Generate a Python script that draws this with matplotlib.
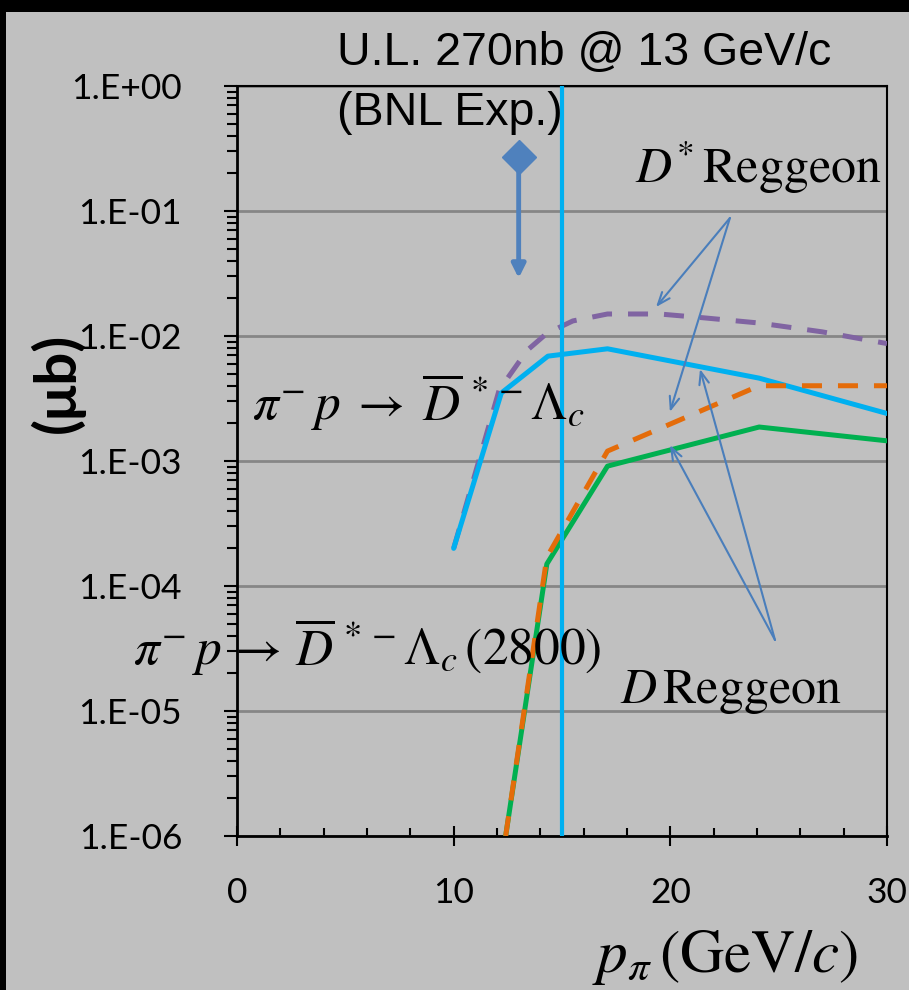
import numpy as np
import matplotlib
matplotlib.use('Agg')
import matplotlib.pyplot as plt
from matplotlib.patches import Rectangle
from matplotlib.ticker import FixedLocator, LogLocator, NullFormatter, MultipleLocator

plt.rcParams['mathtext.fontset'] = 'stix'

# D*^- Lambda_c : D* Reggeon (solid cyan) and smoothed D* curve (purple dashed)
p_dstar = [10, 12.2, 14.35, 17.1, 24.1, 30]
sig_dstar = [2.0e-4, 3.5e-3, 6.9e-3, 7.9e-3, 4.6e-3, 2.4e-3]
p_purple = [10, 12.1, 13.4, 14.3, 15.5, 17.1, 19.5, 21.5, 24.1, 27, 30]
sig_purple = [2.0e-4, 3.7e-3, 7.7e-3, 1.05e-2, 1.32e-2, 1.5e-2, 1.5e-2, 1.4e-2, 1.27e-2, 1.08e-2, 8.7e-3]

# D*^- Lambda_c(2800) : D Reggeon (dashed orange) and solid green
p_orange = [12.4, 14.3, 17.1, 24.1, 30]
sig_orange = [1.0e-6, 1.7e-4, 1.2e-3, 4.0e-3, 4.0e-3]
p_green = [12.4, 14.3, 17.1, 24.1, 30]
sig_green = [1.0e-6, 1.5e-4, 9.1e-4, 1.87e-3, 1.45e-3]

# BNL upper limit (270 nb at 13 GeV/c)
p_ul = 13
sig_ul = 0.27
sig_ul_arrow = 0.029
p_vline = 15

ytick_vals = [1e0, 1e-1, 1e-2, 1e-3, 1e-4, 1e-5, 1e-6]
ytick_labels = ['1.E+00', '1.E-01', '1.E-02', '1.E-03', '1.E-04', '1.E-05', '1.E-06']
xtick_vals = [0, 10, 20, 30]

W, H = 909, 990
fig = plt.figure(figsize=(W / 100, H / 100), dpi=100)
fig.patch.set_facecolor('black')
fig.patches.append(Rectangle((6 / W, 0), 1, 1 - 12 / H, transform=fig.transFigure,
                             facecolor='#c0c0c0', edgecolor='none', zorder=-10))

def fx(px):
    return px / W

def fy(py):
    return 1 - py / H

ax = fig.add_axes([fx(237), fy(836), fx(887) - fx(237), fy(86) - fy(836)])
ax.set_facecolor('#c0c0c0')
ax.set_yscale('log')
ax.set_xlim(0, 30)
ax.set_ylim(1e-6, 1)

cyan = '#00b0f0'
purple = '#8064a2'
orange = '#e46c0a'
green = '#00b050'
blue = '#4f81bd'
lw = 3.6
dash = (0, (4, 3.2))

ax.plot(p_purple, sig_purple, color=purple, lw=lw, ls=dash, zorder=3)
ax.plot(p_dstar, sig_dstar, color=cyan, lw=lw, solid_capstyle='round', zorder=4)
ax.plot(p_green, sig_green, color=green, lw=lw, zorder=3)
ax.plot(p_orange, sig_orange, color=orange, lw=lw, ls=dash, zorder=4)
ax.axvline(p_vline, color=cyan, lw=3, zorder=5)

# upper limit marker with arrow
ax.annotate('', xy=(p_ul, sig_ul_arrow), xytext=(p_ul, sig_ul),
            arrowprops=dict(arrowstyle='-|>,head_length=0.8,head_width=0.4',
                            color=blue, lw=3.5, shrinkA=0, shrinkB=0), zorder=5)
ax.plot([p_ul], [sig_ul], marker='D', ms=17, color=blue, mec=blue, zorder=6)

# annotation arrows
arrow_kw = dict(arrowstyle='->,head_length=0.9,head_width=0.35', color='#4a7ebb',
                lw=1.5, shrinkA=0, shrinkB=0)
for tip in [(19.34, 1.706e-2), (19.98, 2.47e-3)]:
    ax.annotate('', xy=tip, xytext=(22.75, 8.79e-2), arrowprops=arrow_kw, zorder=6)
for tip in [(21.37, 5.44e-3), (19.98, 1.34e-3)]:
    ax.annotate('', xy=tip, xytext=(24.83, 3.7e-5), arrowprops=arrow_kw, zorder=6)

# grid, spines, ticks
ax.yaxis.set_major_locator(FixedLocator(ytick_vals))
ax.set_yticklabels(ytick_labels)
ax.yaxis.set_minor_locator(LogLocator(base=10, subs=np.arange(2, 10), numticks=20))
ax.yaxis.set_minor_formatter(NullFormatter())
ax.xaxis.set_major_locator(FixedLocator(xtick_vals))
ax.xaxis.set_minor_locator(MultipleLocator(2))
ax.grid(axis='y', which='major', color='#868686', lw=2)
ax.set_axisbelow(True)
for s in ['left', 'bottom']:
    ax.spines[s].set_linewidth(2)
for s in ['top', 'right']:
    ax.spines[s].set_linewidth(1.5)

ax.tick_params(axis='y', which='major', direction='out', length=9.5, width=1.5,
               pad=30, labelsize=25.5, labelfontfamily='Lato')
ax.tick_params(axis='y', which='minor', direction='out', length=7, width=1.5)
ax.tick_params(axis='x', which='major', direction='inout', length=15, width=1.5,
               pad=22, labelsize=25.5, labelfontfamily='Lato')
ax.tick_params(axis='x', which='minor', direction='in', length=6, width=1.5)

# texts
fig.text(fx(337), fy(65), 'U.L. 270nb @ 13 GeV/c', fontsize=33.5,
         family='Liberation Sans', va='baseline', ha='left')
fig.text(fx(337), fy(125), '(BNL Exp.)', fontsize=33.5,
         family='Liberation Sans', va='baseline', ha='left')
fig.text(fx(635), fy(183), r'$D^{*}\,\mathrm{Reggeon}$', fontsize=36,
         va='baseline', ha='left')
fig.text(fx(620), fy(703), r'$D\,\mathrm{Reggeon}$', fontsize=36,
         va='baseline', ha='left')
fig.text(fx(252), fy(420),
         r'$\pi^{-}\,p\;\rightarrow\;\overline{D}^{\,*-}\Lambda_c$',
         fontsize=37, va='baseline', ha='left')
fig.text(fx(133), fy(665),
         r'$\pi^{-}\,p\,\rightarrow\,\overline{D}^{\,*-}\Lambda_c\,(2800)$',
         fontsize=37, va='baseline', ha='left')
fig.text(fx(57), fy(383), '(\u03bcb)', fontsize=42, family='Lato',
         fontweight='bold', rotation=90, va='center', ha='center')
fig.text(fx(592), fy(972), r'$p_{\pi}\,(\mathrm{GeV}/c)$', fontsize=44,
         va='baseline', ha='left')

fig.savefig('out.png', dpi=100, facecolor=fig.get_facecolor())
